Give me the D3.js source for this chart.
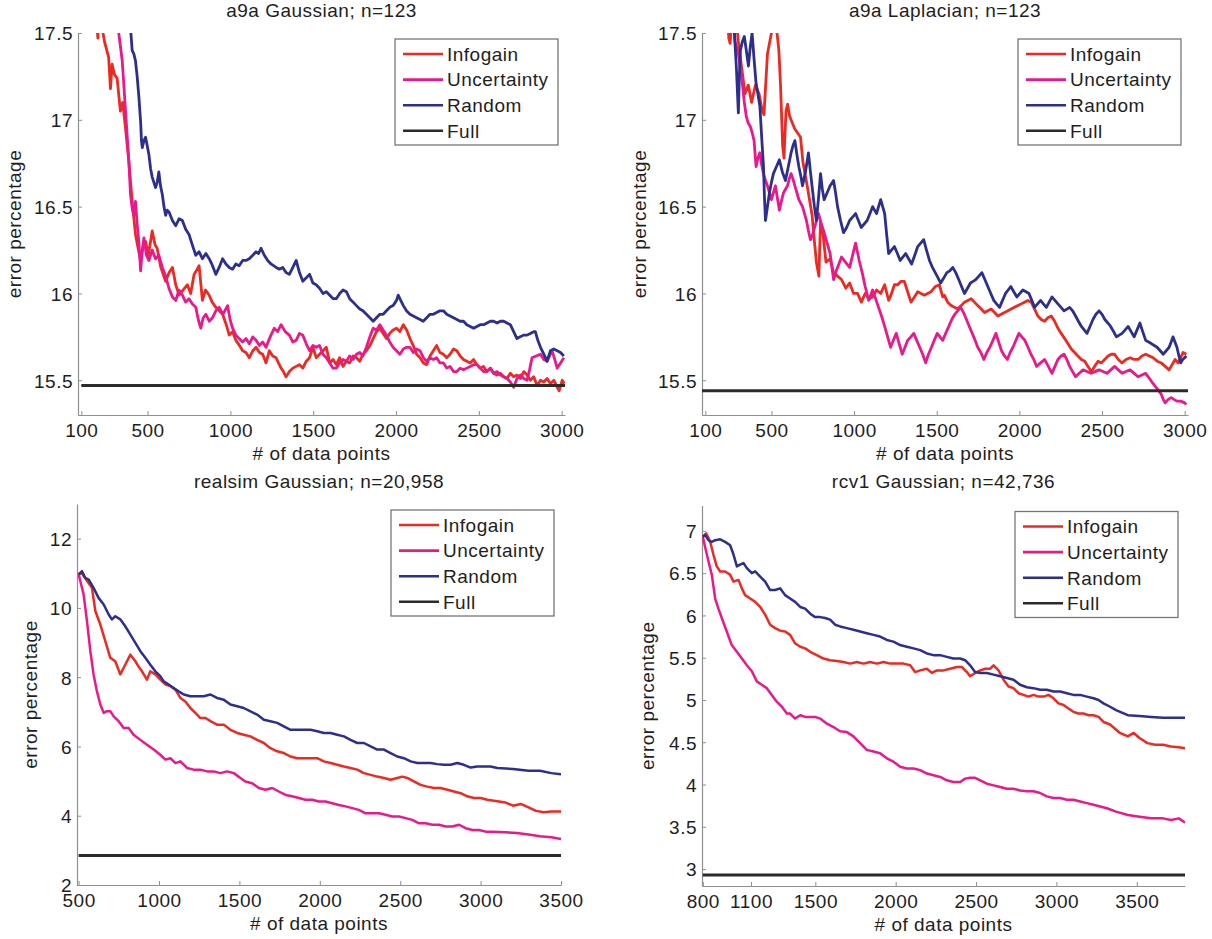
<!DOCTYPE html>
<html>
<head>
<meta charset="utf-8">
<script src="https://cdn.jsdelivr.net/npm/d3@7"></script>
<style>
  body { margin: 0; background: #fff; }
  svg text { font-family: "Liberation Sans", Arial, Helvetica, sans-serif; font-size: 19px; fill: #1e1e1e; letter-spacing: 0.5px; }
</style>
</head>
<body>
<div id="chart"></div>
<script>
const seriesNames = ['Infogain', 'Uncertainty', 'Random', 'Full'];
const seriesColors = ['#ec2a22', '#e8198c', '#2c2f8e', '#2b2b2b'];

// a9a Gaussian; n=123
const a9aGaussInfogain = [[190,17.6],[200,17.47],[206,17.6],[222,17.55],[240,17.45],[265,17.36],[276,17.18],[286,17.32],[300,17.26],[316,17.24],[336,17.05],[350,17.1],[367,16.95],[387,16.76],[407,16.53],[427,16.34],[445,16.25],[458,16.19],[475,16.28],[488,16.3],[505,16.22],[528,16.36],[545,16.28],[558,16.26],[580,16.15],[609,16.07],[630,16.12],[650,16.15],[670,16.05],[690,15.99],[715,16.02],[740,16.05],[760,16.0],[781,16.11],[800,16.14],[811,16.16],[831,15.96],[850,16.02],[872,15.99],[890,15.95],[912,15.92],[933,15.9],[953,15.88],[975,15.82],[993,15.76],[1013,15.78],[1033,15.73],[1055,15.7],[1074,15.67],[1094,15.66],[1114,15.63],[1135,15.67],[1155,15.69],[1175,15.66],[1195,15.65],[1215,15.6],[1235,15.67],[1255,15.64],[1276,15.63],[1290,15.6],[1306,15.57],[1320,15.55],[1336,15.52],[1356,15.55],[1377,15.57],[1397,15.58],[1417,15.59],[1437,15.57],[1458,15.61],[1478,15.63],[1498,15.69],[1518,15.63],[1538,15.65],[1559,15.67],[1579,15.69],[1600,15.6],[1620,15.62],[1639,15.59],[1660,15.63],[1680,15.58],[1700,15.61],[1720,15.6],[1741,15.64],[1761,15.63],[1781,15.61],[1800,15.65],[1821,15.67],[1842,15.7],[1862,15.74],[1882,15.78],[1902,15.8],[1922,15.77],[1942,15.74],[1962,15.77],[1982,15.79],[2003,15.8],[2023,15.78],[2044,15.82],[2064,15.79],[2084,15.74],[2104,15.7],[2124,15.65],[2145,15.63],[2165,15.6],[2185,15.59],[2205,15.64],[2225,15.67],[2245,15.7],[2265,15.66],[2286,15.65],[2306,15.63],[2326,15.65],[2347,15.68],[2367,15.67],[2387,15.64],[2407,15.62],[2427,15.61],[2448,15.6],[2468,15.62],[2488,15.59],[2508,15.57],[2528,15.58],[2548,15.55],[2569,15.57],[2589,15.54],[2609,15.53],[2630,15.54],[2650,15.52],[2670,15.51],[2690,15.54],[2710,15.52],[2730,15.53],[2751,15.51],[2771,15.55],[2791,15.53],[2811,15.5],[2831,15.52],[2852,15.47],[2872,15.5],[2892,15.49],[2912,15.51],[2932,15.48],[2953,15.5],[2973,15.46],[2985,15.44],[3003,15.5],[3015,15.48]];
const a9aGaussUncertainty = [[320,17.6],[326,17.5],[347,17.34],[367,17.05],[387,16.76],[397,16.57],[407,16.49],[417,16.45],[427,16.53],[437,16.4],[447,16.3],[458,16.13],[468,16.25],[478,16.32],[493,16.22],[508,16.19],[528,16.25],[548,16.2],[568,16.22],[589,16.15],[609,16.1],[629,16.03],[650,15.98],[670,15.96],[690,16.02],[710,15.99],[730,15.95],[750,15.97],[770,15.94],[791,15.92],[806,15.85],[821,15.8],[836,15.86],[852,15.88],[872,15.84],[892,15.86],[912,15.9],[932,15.92],[955,15.88],[983,15.93],[998,15.85],[1013,15.8],[1033,15.76],[1053,15.74],[1074,15.72],[1094,15.74],[1114,15.71],[1135,15.75],[1155,15.73],[1175,15.7],[1195,15.72],[1215,15.69],[1240,15.75],[1265,15.8],[1285,15.78],[1306,15.82],[1331,15.78],[1356,15.76],[1377,15.72],[1397,15.73],[1417,15.77],[1437,15.76],[1458,15.71],[1478,15.67],[1498,15.7],[1518,15.69],[1538,15.7],[1559,15.65],[1579,15.63],[1600,15.6],[1619,15.57],[1639,15.57],[1660,15.6],[1680,15.62],[1700,15.61],[1720,15.64],[1741,15.62],[1761,15.65],[1781,15.66],[1800,15.64],[1821,15.69],[1842,15.75],[1862,15.8],[1882,15.79],[1902,15.82],[1922,15.79],[1942,15.76],[1962,15.72],[1982,15.69],[2003,15.67],[2023,15.65],[2044,15.68],[2064,15.69],[2084,15.69],[2104,15.66],[2124,15.68],[2145,15.67],[2165,15.63],[2185,15.61],[2205,15.63],[2225,15.62],[2245,15.63],[2265,15.6],[2286,15.6],[2306,15.57],[2326,15.58],[2347,15.55],[2367,15.55],[2387,15.57],[2407,15.56],[2427,15.57],[2448,15.58],[2468,15.59],[2488,15.59],[2508,15.57],[2528,15.55],[2548,15.55],[2569,15.57],[2589,15.54],[2609,15.55],[2630,15.53],[2650,15.52],[2670,15.51],[2690,15.49],[2710,15.46],[2730,15.51],[2751,15.53],[2771,15.51],[2791,15.5],[2806,15.56],[2821,15.63],[2846,15.64],[2872,15.65],[2892,15.62],[2912,15.61],[2927,15.64],[2942,15.67],[2958,15.62],[2973,15.57],[2993,15.6],[3013,15.63]];
const a9aGaussRandom = [[392,17.6],[397,17.53],[407,17.4],[417,17.38],[427,17.34],[437,17.25],[447,17.14],[458,16.99],[463,16.88],[468,16.84],[478,16.88],[488,16.9],[498,16.85],[508,16.8],[518,16.72],[528,16.67],[538,16.64],[548,16.61],[558,16.64],[568,16.7],[578,16.62],[589,16.57],[599,16.5],[609,16.45],[619,16.48],[629,16.47],[650,16.42],[670,16.39],[690,16.43],[710,16.42],[730,16.37],[750,16.34],[770,16.28],[791,16.22],[811,16.24],[831,16.2],[852,16.23],[872,16.2],[892,16.16],[912,16.11],[932,16.15],[953,16.2],[973,16.17],[993,16.15],[1013,16.14],[1033,16.17],[1053,16.16],[1074,16.19],[1094,16.19],[1114,16.2],[1135,16.22],[1155,16.24],[1170,16.23],[1185,16.26],[1205,16.22],[1225,16.19],[1245,16.17],[1276,16.15],[1296,16.14],[1316,16.15],[1336,16.12],[1356,16.11],[1377,16.15],[1397,16.19],[1417,16.12],[1437,16.07],[1458,16.09],[1478,16.11],[1498,16.06],[1518,16.05],[1538,16.03],[1559,16.0],[1579,16.01],[1600,15.99],[1619,15.97],[1639,15.97],[1660,16.0],[1680,16.02],[1700,16.01],[1720,15.97],[1741,15.95],[1761,15.93],[1781,15.91],[1800,15.9],[1821,15.88],[1842,15.86],[1862,15.84],[1882,15.86],[1902,15.88],[1922,15.88],[1942,15.9],[1962,15.92],[1982,15.93],[2003,15.96],[2013,15.99],[2023,15.97],[2044,15.93],[2063,15.9],[2084,15.88],[2104,15.87],[2124,15.86],[2145,15.85],[2164,15.84],[2185,15.86],[2205,15.88],[2225,15.88],[2245,15.89],[2265,15.9],[2286,15.9],[2306,15.88],[2326,15.87],[2347,15.86],[2367,15.85],[2387,15.84],[2407,15.84],[2427,15.82],[2448,15.81],[2468,15.8],[2488,15.81],[2508,15.82],[2529,15.82],[2549,15.83],[2569,15.84],[2589,15.84],[2610,15.83],[2630,15.84],[2650,15.84],[2670,15.83],[2690,15.82],[2710,15.78],[2730,15.74],[2750,15.75],[2770,15.76],[2791,15.76],[2811,15.77],[2831,15.78],[2841,15.78],[2856,15.73],[2872,15.69],[2892,15.65],[2912,15.61],[2922,15.64],[2932,15.67],[2952,15.68],[2973,15.67],[2993,15.66],[3013,15.64]];
const a9aGaussFull = [[100,15.47],[3020,15.47]];

// a9a Laplacian; n=123
const a9aLapInfogain = [[235,17.6],[242,17.47],[250,17.44],[262,17.6],[290,17.55],[300,17.45],[320,17.3],[340,17.15],[360,17.2],[380,17.1],[403,17.2],[425,17.15],[445,17.05],[455,17.03],[465,17.2],[476,17.38],[490,17.45],[500,17.5],[514,17.52],[534,17.5],[545,17.4],[555,17.2],[568,16.85],[576,16.78],[588,17.05],[598,17.09],[610,17.02],[640,16.95],[676,16.9],[690,16.76],[720,16.6],[746,16.45],[760,16.3],[772,16.18],[787,16.1],[797,16.41],[810,16.36],[830,16.18],[855,16.2],[876,16.12],[900,16.1],[924,16.08],[950,16.03],[973,16.06],[997,16.0],[1021,16.0],[1044,15.95],[1067,16.0],[1090,15.97],[1112,15.98],[1136,16.02],[1161,16.0],[1185,16.05],[1209,15.96],[1223,15.99],[1244,16.05],[1264,16.05],[1284,16.07],[1304,16.07],[1324,16.01],[1344,15.95],[1365,15.98],[1385,16.01],[1405,16.0],[1425,15.99],[1445,16.0],[1466,16.01],[1491,16.04],[1516,16.05],[1536,15.98],[1546,15.99],[1566,15.95],[1587,15.93],[1607,15.92],[1627,15.91],[1648,15.93],[1668,15.95],[1688,15.96],[1708,15.97],[1728,15.95],[1748,15.93],[1769,15.91],[1789,15.89],[1809,15.9],[1829,15.91],[1850,15.89],[1870,15.87],[1890,15.88],[1910,15.89],[1930,15.9],[1950,15.91],[1970,15.92],[1991,15.93],[2011,15.94],[2031,15.95],[2051,15.96],[2072,15.95],[2092,15.91],[2112,15.87],[2132,15.85],[2152,15.84],[2172,15.86],[2193,15.87],[2213,15.84],[2233,15.8],[2253,15.77],[2274,15.74],[2294,15.71],[2314,15.68],[2334,15.66],[2354,15.64],[2375,15.62],[2395,15.61],[2415,15.58],[2435,15.55],[2455,15.58],[2476,15.61],[2496,15.6],[2516,15.62],[2536,15.64],[2556,15.65],[2576,15.65],[2598,15.62],[2621,15.6],[2645,15.62],[2670,15.63],[2694,15.62],[2718,15.62],[2741,15.64],[2764,15.65],[2787,15.64],[2809,15.63],[2834,15.61],[2858,15.6],[2882,15.58],[2906,15.56],[2924,15.59],[2942,15.62],[2960,15.6],[2976,15.63],[2990,15.66],[3010,15.65]];
const a9aLapUncertainty = [[270,17.6],[280,17.45],[300,17.38],[312,17.3],[324,17.21],[336,17.1],[348,17.02],[360,16.98],[373,16.96],[385,16.92],[395,16.88],[407,16.73],[418,16.78],[430,16.81],[441,16.74],[452,16.69],[464,16.65],[476,16.62],[488,16.58],[500,16.54],[512,16.58],[524,16.62],[536,16.55],[548,16.48],[560,16.53],[573,16.58],[585,16.6],[597,16.62],[608,16.66],[619,16.69],[630,16.66],[642,16.62],[654,16.58],[666,16.54],[677,16.52],[688,16.5],[700,16.46],[712,16.42],[724,16.36],[736,16.31],[749,16.34],[761,16.38],[773,16.42],[785,16.46],[802,16.4],[819,16.35],[837,16.29],[855,16.23],[866,16.15],[876,16.08],[888,16.12],[900,16.15],[912,16.18],[924,16.21],[948,16.18],[973,16.15],[991,16.22],[1009,16.29],[1020,16.24],[1031,16.19],[1049,16.12],[1067,16.04],[1078,16.0],[1088,15.96],[1100,15.99],[1112,16.02],[1130,15.97],[1148,15.92],[1166,15.87],[1185,15.81],[1203,15.75],[1221,15.69],[1238,15.73],[1255,15.77],[1273,15.71],[1291,15.65],[1308,15.69],[1324,15.73],[1343,15.75],[1361,15.77],[1379,15.73],[1397,15.69],[1415,15.65],[1433,15.6],[1450,15.65],[1468,15.69],[1485,15.73],[1503,15.77],[1520,15.75],[1536,15.73],[1554,15.77],[1573,15.81],[1591,15.85],[1609,15.88],[1627,15.9],[1645,15.92],[1662,15.89],[1680,15.85],[1697,15.81],[1715,15.77],[1732,15.73],[1748,15.69],[1767,15.66],[1785,15.62],[1803,15.66],[1821,15.69],[1840,15.73],[1858,15.77],[1875,15.72],[1892,15.67],[1910,15.64],[1927,15.62],[1944,15.66],[1961,15.69],[1979,15.73],[1997,15.77],[2015,15.75],[2033,15.73],[2052,15.69],[2070,15.65],[2087,15.62],[2104,15.58],[2128,15.6],[2152,15.62],[2175,15.58],[2197,15.54],[2215,15.58],[2233,15.62],[2252,15.64],[2270,15.65],[2287,15.62],[2304,15.58],[2322,15.55],[2340,15.52],[2362,15.54],[2385,15.56],[2409,15.55],[2433,15.54],[2458,15.55],[2482,15.56],[2506,15.55],[2529,15.54],[2553,15.56],[2576,15.58],[2598,15.56],[2621,15.54],[2645,15.55],[2670,15.56],[2694,15.54],[2718,15.52],[2741,15.53],[2764,15.54],[2787,15.51],[2809,15.48],[2834,15.45],[2858,15.42],[2870,15.39],[2882,15.37],[2900,15.39],[2918,15.4],[2935,15.39],[2953,15.38],[2976,15.38],[3000,15.37],[3010,15.36]];
const a9aLapRandom = [[270,17.6],[276,17.5],[288,17.3],[300,17.04],[306,17.25],[312,17.4],[324,17.45],[336,17.48],[348,17.4],[361,17.31],[372,17.42],[383,17.5],[395,17.35],[407,17.21],[418,17.15],[430,17.08],[441,16.9],[452,16.73],[458,16.55],[464,16.42],[476,16.5],[488,16.58],[500,16.64],[512,16.69],[530,16.73],[548,16.77],[566,16.7],[585,16.65],[602,16.73],[619,16.81],[630,16.85],[642,16.88],[654,16.8],[666,16.73],[677,16.68],[688,16.62],[706,16.7],[724,16.81],[736,16.7],[748,16.6],[760,16.5],[772,16.42],[785,16.55],[797,16.69],[808,16.6],[819,16.54],[837,16.58],[855,16.62],[876,16.65],[888,16.58],[900,16.5],[918,16.42],[936,16.35],[955,16.38],[973,16.42],[991,16.44],[1009,16.46],[1026,16.42],[1043,16.38],[1061,16.4],[1079,16.42],[1096,16.46],[1112,16.5],[1124,16.48],[1136,16.46],[1148,16.5],[1161,16.54],[1173,16.5],[1185,16.46],[1197,16.34],[1209,16.23],[1226,16.25],[1244,16.27],[1262,16.23],[1279,16.19],[1296,16.21],[1312,16.23],[1330,16.2],[1348,16.17],[1367,16.22],[1385,16.27],[1403,16.29],[1421,16.31],[1438,16.25],[1456,16.19],[1474,16.15],[1491,16.12],[1508,16.09],[1524,16.06],[1543,16.09],[1561,16.12],[1579,16.13],[1597,16.15],[1615,16.12],[1633,16.08],[1650,16.04],[1668,16.0],[1686,16.03],[1704,16.06],[1720,16.07],[1736,16.08],[1755,16.1],[1773,16.12],[1791,16.08],[1809,16.04],[1827,16.0],[1845,15.96],[1862,15.94],[1880,15.92],[1898,15.96],[1916,16.0],[1932,16.02],[1948,16.04],[1966,16.01],[1985,15.98],[2003,16.0],[2021,16.02],[2040,16.01],[2058,16.0],[2075,15.96],[2092,15.92],[2110,15.94],[2128,15.96],[2145,15.94],[2163,15.92],[2180,15.95],[2197,15.98],[2215,15.96],[2233,15.94],[2252,15.92],[2270,15.9],[2287,15.91],[2304,15.92],[2322,15.9],[2340,15.87],[2357,15.84],[2375,15.81],[2392,15.79],[2409,15.77],[2427,15.81],[2445,15.85],[2463,15.88],[2482,15.9],[2500,15.88],[2517,15.85],[2535,15.83],[2552,15.81],[2570,15.78],[2587,15.75],[2604,15.76],[2621,15.77],[2640,15.79],[2658,15.81],[2676,15.78],[2694,15.75],[2712,15.79],[2729,15.83],[2746,15.78],[2764,15.73],[2782,15.72],[2800,15.71],[2816,15.7],[2833,15.69],[2852,15.67],[2870,15.65],[2888,15.67],[2906,15.69],[2918,15.72],[2929,15.75],[2941,15.72],[2953,15.69],[2965,15.64],[2976,15.6],[2988,15.62],[3000,15.63],[3010,15.64]];
const a9aLapFull = [[80,15.44],[3020,15.44]];

// realsim Gaussian; n=20,958
const realsimInfogain = [[500,10.97],[521,11.0],[552,10.78],[583,10.58],[604,9.91],[635,9.52],[666,9.04],[697,8.56],[728,8.46],[759,8.08],[790,8.36],[822,8.65],[853,8.46],[874,8.3],[894,8.17],[925,7.93],[946,8.17],[977,8.08],[1008,7.93],[1040,7.79],[1071,7.74],[1102,7.64],[1133,7.4],[1164,7.3],[1195,7.11],[1226,6.97],[1257,6.82],[1289,6.82],[1320,6.73],[1361,6.63],[1403,6.63],[1444,6.48],[1486,6.39],[1527,6.34],[1569,6.29],[1610,6.19],[1652,6.1],[1693,5.95],[1735,5.86],[1776,5.81],[1818,5.71],[1859,5.66],[1901,5.66],[1942,5.66],[1984,5.66],[2025,5.57],[2067,5.52],[2108,5.47],[2150,5.42],[2191,5.38],[2233,5.33],[2274,5.23],[2316,5.18],[2357,5.13],[2399,5.09],[2440,5.04],[2482,5.09],[2513,5.13],[2544,5.09],[2585,4.99],[2627,4.89],[2668,4.84],[2710,4.8],[2751,4.8],[2793,4.75],[2834,4.7],[2876,4.65],[2917,4.56],[2959,4.51],[3000,4.51],[3042,4.46],[3083,4.43],[3155,4.38],[3202,4.29],[3250,4.34],[3298,4.24],[3345,4.14],[3393,4.1],[3440,4.12],[3500,4.12]];
const realsimUncertainty = [[500,10.97],[531,10.39],[552,9.62],[573,8.75],[593,8.08],[614,7.59],[635,7.21],[656,6.97],[676,7.02],[697,7.02],[718,6.87],[749,6.73],[780,6.53],[811,6.53],[842,6.34],[884,6.19],[925,6.05],[967,5.91],[1008,5.76],[1040,5.62],[1071,5.66],[1102,5.52],[1133,5.57],[1174,5.38],[1216,5.33],[1257,5.33],[1299,5.28],[1340,5.28],[1382,5.23],[1423,5.28],[1465,5.23],[1506,5.09],[1537,4.99],[1579,4.94],[1621,4.8],[1662,4.75],[1704,4.8],[1745,4.7],[1787,4.6],[1828,4.56],[1870,4.51],[1911,4.46],[1953,4.46],[1994,4.41],[2036,4.41],[2077,4.36],[2119,4.31],[2160,4.27],[2202,4.22],[2243,4.17],[2285,4.07],[2326,4.07],[2368,4.07],[2409,4.03],[2451,3.98],[2492,3.98],[2534,3.93],[2575,3.88],[2617,3.78],[2658,3.78],[2700,3.74],[2741,3.74],[2783,3.69],[2824,3.69],[2866,3.74],[2907,3.64],[2949,3.59],[2990,3.59],[3032,3.54],[3073,3.54],[3155,3.52],[3226,3.5],[3298,3.46],[3369,3.41],[3440,3.38],[3500,3.33]];
const realsimRandom = [[500,10.97],[521,11.06],[541,10.87],[562,10.82],[593,10.58],[624,10.29],[656,10.1],[687,9.81],[707,9.67],[728,9.76],[759,9.67],[790,9.47],[822,9.23],[853,8.99],[884,8.75],[915,8.56],[946,8.36],[977,8.17],[1008,8.03],[1029,7.88],[1060,7.79],[1091,7.69],[1122,7.59],[1154,7.5],[1195,7.45],[1237,7.45],[1278,7.45],[1320,7.5],[1361,7.4],[1403,7.35],[1444,7.21],[1486,7.16],[1527,7.11],[1569,7.01],[1610,6.92],[1652,6.77],[1693,6.73],[1735,6.68],[1776,6.58],[1818,6.48],[1859,6.48],[1901,6.48],[1942,6.48],[1984,6.44],[2025,6.39],[2067,6.39],[2108,6.34],[2150,6.29],[2191,6.19],[2233,6.1],[2274,6.1],[2316,6.0],[2357,5.91],[2399,5.91],[2440,5.81],[2482,5.71],[2523,5.66],[2565,5.57],[2606,5.52],[2648,5.52],[2689,5.52],[2731,5.49],[2772,5.47],[2813,5.47],[2855,5.52],[2896,5.47],[2938,5.39],[2979,5.42],[3021,5.42],[3062,5.42],[3104,5.38],[3202,5.35],[3298,5.3],[3369,5.3],[3440,5.23],[3500,5.2]];
const realsimFull = [[500,2.85],[3500,2.85]];

// rcv1 Gaussian; n=42,736
const rcv1Infogain = [[800,6.93],[821,6.97],[846,6.87],[866,6.72],[887,6.58],[908,6.52],[939,6.52],[970,6.48],[991,6.4],[1022,6.42],[1043,6.32],[1063,6.24],[1095,6.2],[1126,6.16],[1157,6.1],[1188,6.01],[1219,5.89],[1250,5.85],[1281,5.82],[1312,5.81],[1343,5.77],[1374,5.67],[1406,5.63],[1437,5.61],[1468,5.57],[1509,5.53],[1551,5.49],[1592,5.47],[1634,5.46],[1675,5.45],[1717,5.43],[1758,5.45],[1800,5.43],[1841,5.45],[1883,5.43],[1924,5.45],[1966,5.43],[2007,5.43],[2049,5.43],[2090,5.41],[2121,5.33],[2152,5.35],[2194,5.37],[2225,5.32],[2256,5.35],[2297,5.35],[2339,5.37],[2380,5.39],[2411,5.39],[2443,5.33],[2463,5.28],[2494,5.32],[2526,5.35],[2557,5.37],[2588,5.37],[2609,5.41],[2640,5.35],[2671,5.24],[2702,5.16],[2733,5.14],[2764,5.08],[2795,5.06],[2826,5.04],[2857,5.06],[2889,5.04],[2920,5.04],[2951,5.06],[2982,5.02],[3013,4.96],[3044,4.94],[3075,4.9],[3106,4.86],[3137,4.84],[3168,4.84],[3200,4.82],[3231,4.82],[3262,4.8],[3293,4.74],[3334,4.71],[3395,4.61],[3444,4.57],[3481,4.61],[3517,4.55],[3566,4.49],[3615,4.47],[3664,4.47],[3712,4.45],[3761,4.44],[3800,4.43]];
const rcv1Uncertainty = [[800,6.93],[825,6.72],[856,6.48],[877,6.2],[897,6.08],[918,5.97],[949,5.81],[980,5.65],[1012,5.57],[1043,5.49],[1074,5.41],[1105,5.34],[1136,5.22],[1167,5.18],[1198,5.14],[1229,5.06],[1260,4.98],[1292,4.92],[1323,4.84],[1343,4.84],[1374,4.78],[1406,4.82],[1437,4.8],[1468,4.8],[1499,4.8],[1530,4.78],[1572,4.72],[1613,4.68],[1654,4.63],[1696,4.62],[1737,4.57],[1779,4.49],[1820,4.41],[1862,4.39],[1903,4.37],[1945,4.31],[1986,4.27],[2028,4.21],[2069,4.19],[2111,4.19],[2152,4.17],[2194,4.13],[2235,4.11],[2277,4.09],[2318,4.05],[2359,4.03],[2401,4.03],[2432,4.07],[2463,4.08],[2494,4.08],[2526,4.05],[2567,4.01],[2609,3.99],[2650,3.97],[2692,3.95],[2733,3.95],[2774,3.93],[2816,3.92],[2857,3.92],[2899,3.9],[2940,3.86],[2982,3.84],[3023,3.84],[3065,3.82],[3106,3.82],[3148,3.8],[3189,3.78],[3231,3.76],[3272,3.74],[3314,3.72],[3371,3.68],[3444,3.64],[3517,3.62],[3590,3.6],[3664,3.6],[3712,3.58],[3761,3.6],[3800,3.55]];
const rcv1Random = [[800,6.93],[815,6.95],[835,6.89],[856,6.87],[877,6.89],[908,6.9],[939,6.87],[970,6.83],[991,6.72],[1012,6.58],[1032,6.6],[1053,6.62],[1074,6.56],[1105,6.5],[1126,6.52],[1157,6.46],[1188,6.4],[1219,6.3],[1250,6.3],[1281,6.32],[1312,6.24],[1343,6.2],[1374,6.16],[1406,6.1],[1437,6.08],[1468,6.02],[1499,5.98],[1530,5.98],[1561,5.97],[1592,5.95],[1623,5.89],[1654,5.87],[1696,5.85],[1737,5.83],[1779,5.81],[1820,5.79],[1862,5.77],[1903,5.75],[1945,5.71],[1986,5.69],[2028,5.65],[2069,5.63],[2111,5.61],[2152,5.59],[2194,5.55],[2235,5.53],[2277,5.53],[2318,5.51],[2359,5.49],[2401,5.49],[2432,5.47],[2463,5.41],[2494,5.33],[2526,5.32],[2567,5.32],[2609,5.3],[2650,5.28],[2692,5.26],[2733,5.24],[2774,5.18],[2816,5.15],[2857,5.14],[2899,5.12],[2940,5.12],[2982,5.1],[3023,5.1],[3065,5.08],[3106,5.06],[3148,5.06],[3189,5.04],[3231,5.02],[3262,5.0],[3293,4.96],[3334,4.92],[3371,4.88],[3444,4.82],[3517,4.81],[3590,4.8],[3664,4.79],[3737,4.79],[3800,4.79]];
const rcv1Full = [[800,2.93],[3800,2.93]];

// tick labels
const a9aXTicks = [100, 500, 1000, 1500, 2000, 2500, 3000];
const a9aYTicks = [15.5, 16, 16.5, 17, 17.5];
const realsimXTicks = [500, 1000, 1500, 2000, 2500, 3000, 3500];
const realsimYTicks = [2, 4, 6, 8, 10, 12];
const rcv1XTicks = [800, 1100, 1500, 2000, 2500, 3000, 3500];
const rcv1YTicks = [3, 3.5, 4, 4.5, 5, 5.5, 6, 6.5, 7];

const panels = [
    {
        title: 'a9a Gaussian; n=123',
        series: [a9aGaussInfogain, a9aGaussUncertainty, a9aGaussRandom, a9aGaussFull],
        xDomain: [80, 3020], yDomain: [15.3, 17.5],
        xTicks: a9aXTicks, yTicks: a9aYTicks,
        box: {left: 78, right: 565, top: 33, bottom: 415},
        ylabelOffset: 57, titleY: 17, lineWidth: 2.8
    },
    {
        title: 'a9a Laplacian; n=123',
        series: [a9aLapInfogain, a9aLapUncertainty, a9aLapRandom, a9aLapFull],
        xDomain: [80, 3020], yDomain: [15.3, 17.5],
        xTicks: a9aXTicks, yTicks: a9aYTicks,
        box: {left: 702, right: 1188, top: 33, bottom: 415},
        ylabelOffset: 56, titleY: 17, lineWidth: 2.8
    },
    {
        title: 'realsim Gaussian; n=20,958',
        series: [realsimInfogain, realsimUncertainty, realsimRandom, realsimFull],
        xDomain: [490, 3500], yDomain: [2, 13],
        xTicks: realsimXTicks, yTicks: realsimYTicks,
        box: {left: 77, right: 561, top: 504, bottom: 885},
        ylabelOffset: 40, titleY: 488, lineWidth: 2.5
    },
    {
        title: 'rcv1 Gaussian; n=42,736',
        series: [rcv1Infogain, rcv1Uncertainty, rcv1Random, rcv1Full],
        xDomain: [795, 3800], yDomain: [2.8, 7.3],
        xTicks: rcv1XTicks, yTicks: rcv1YTicks,
        box: {left: 702, right: 1185, top: 505.5, bottom: 886},
        ylabelOffset: 48, titleY: 488, lineWidth: 2.5
    }
];

const svg = d3.select('#chart').append('svg')
    .attr('width', 1212)
    .attr('height', 939)
    .style('display', 'block')
    .style('background', '#fff');

function drawPanel(p, i) {
    const b = p.box;
    const x = d3.scaleLinear().domain(p.xDomain).range([b.left, b.right]);
    const y = d3.scaleLinear().domain(p.yDomain).range([b.bottom, b.top]);
    const g = svg.append('g');

    g.append('clipPath')
        .attr('id', `clip-${i}`)
        .append('rect')
        .attr('x', b.left)
        .attr('y', b.top)
        .attr('width', b.right - b.left)
        .attr('height', b.bottom - b.top);

    // axes, ticks pointing inward
    const xAxis = g.append('g')
        .attr('transform', `translate(0,${b.bottom})`)
        .call(d3.axisBottom(x).tickValues(p.xTicks).tickFormat(d => String(d))
            .tickSizeInner(-4).tickSizeOuter(0).tickPadding(9));
    const yAxis = g.append('g')
        .attr('transform', `translate(${b.left},0)`)
        .call(d3.axisLeft(y).tickValues(p.yTicks).tickFormat(d => String(d))
            .tickSizeInner(-4).tickSizeOuter(0).tickPadding(5));
    [xAxis, yAxis].forEach(a => {
        a.attr('font-size', null).attr('font-family', null);
        a.select('.domain').attr('stroke', '#8f8f8f').attr('stroke-width', 1.2);
        a.selectAll('.tick line').attr('stroke', '#8f8f8f');
    });
    yAxis.selectAll('.tick text').attr('dy', '0.36em');

    // lines
    const line = d3.line().x(d => x(d[0])).y(d => y(d[1]));
    const lines = g.append('g').attr('clip-path', `url(#clip-${i})`);
    p.series.forEach((s, k) => {
        lines.append('path')
            .datum(s)
            .attr('fill', 'none')
            .attr('stroke', seriesColors[k])
            .attr('stroke-width', k === 3 ? 3 : p.lineWidth)
            .attr('stroke-linejoin', 'round')
            .attr('d', line);
    });

    // texts
    g.append('text')
        .attr('x', (b.left + b.right) / 2)
        .attr('y', p.titleY)
        .attr('text-anchor', 'middle')
        .text(p.title);
    g.append('text')
        .attr('x', (b.left + b.right) / 2)
        .attr('y', b.bottom + 45)
        .attr('text-anchor', 'middle')
        .text('# of data points');
    g.append('text')
        .attr('transform', `translate(${b.left - p.ylabelOffset},${(b.top + b.bottom) / 2}) rotate(-90)`)
        .attr('text-anchor', 'middle')
        .text('error percentage');

    // legend
    const lg = g.append('g')
        .attr('transform', `translate(${b.right - 170},${b.top + 6})`);
    lg.append('rect')
        .attr('x', 0).attr('y', 0)
        .attr('width', 163).attr('height', 106)
        .attr('fill', '#fff')
        .attr('stroke', '#777')
        .attr('stroke-width', 1.3);
    seriesNames.forEach((name, k) => {
        const ry = 15 + k * 25.6;
        lg.append('line')
            .attr('x1', 8).attr('x2', 48)
            .attr('y1', ry).attr('y2', ry)
            .attr('stroke', seriesColors[k])
            .attr('stroke-width', 2.6);
        lg.append('text')
            .attr('x', 52)
            .attr('y', ry)
            .attr('dy', '0.36em')
            .text(name);
    });
}

panels.forEach(drawPanel);
</script>
</body>
</html>
